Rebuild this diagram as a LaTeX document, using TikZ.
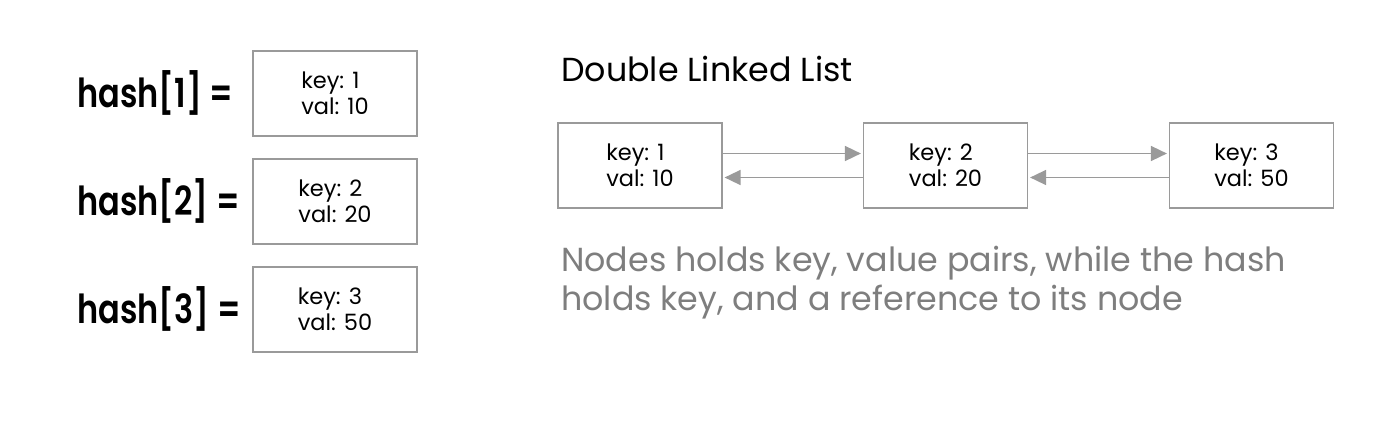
\documentclass[tikz,border=0pt]{standalone}
\usepackage{fontspec}
\setmainfont{Poppins}
\newfontfamily\hashfont[FakeStretch=0.8]{Poppins SemiBold}
\usetikzlibrary{arrows.meta}
\definecolor{boxgray}{HTML}{9A9A9A}
\definecolor{txtgray}{HTML}{7E7E7E}
\begin{document}
\begin{tikzpicture}[x=1pt,y=-1pt,
  cell/.style={draw=boxgray, line width=1.2pt, minimum width=164pt, minimum height=85pt,
    inner sep=0pt, align=left, font=\fontsize{22.5}{26}\selectfont, text=black},
  hashlbl/.style={anchor=base west, inner sep=0pt, font=\fontsize{40}{48}\hashfont},
  link/.style={draw=boxgray, line width=1.6pt, -{Triangle[length=16pt,width=15pt]}, shorten >=2pt},
]
\useasboundingbox (0,0) rectangle (1400,431);
% hash table
\node[hashlbl] (h1) at (77,107) {hash[1] =};
\node[hashlbl] (h2) at (77,215) {hash[2] =};
\node[hashlbl] (h3) at (77,323) {hash[3] =};
\node[cell] (c1) at (335,93.5) {key: 1\\val: 10};
\node[cell] (c2) at (335,201.5) {key: 2\\val: 20};
\node[cell] (c3) at (335,309.5) {key: 3\\val: 50};
% title
\node[anchor=base west, inner sep=0pt, font=\fontsize{33.3}{38}\selectfont] (title) at (561,81) {Double Linked List};
% list
\node[cell] (r1) at (640,165.5) {key: 1\\val: 10};
\node[cell] (r2) at (945.5,165.5) {key: 2\\val: 20};
\node[cell] (r3) at (1251.5,165.5) {key: 3\\val: 50};
\draw[link] ([yshift=12pt]r1.east) -- ([yshift=12pt]r2.west);
\draw[link] ([yshift=-12pt]r2.west) -- ([yshift=-12pt]r1.east);
\draw[link] ([yshift=12pt]r2.east) -- ([yshift=12pt]r3.west);
\draw[link] ([yshift=-12pt]r3.west) -- ([yshift=-12pt]r2.east);
% description
\node[anchor=base west, inner sep=0pt, text=txtgray, align=left, font=\fontsize{33.3}{39}\selectfont] (desc) at (561,310)
  {Nodes holds key, value pairs, while the hash\\holds key, and a reference to its node};
\end{tikzpicture}
\end{document}
